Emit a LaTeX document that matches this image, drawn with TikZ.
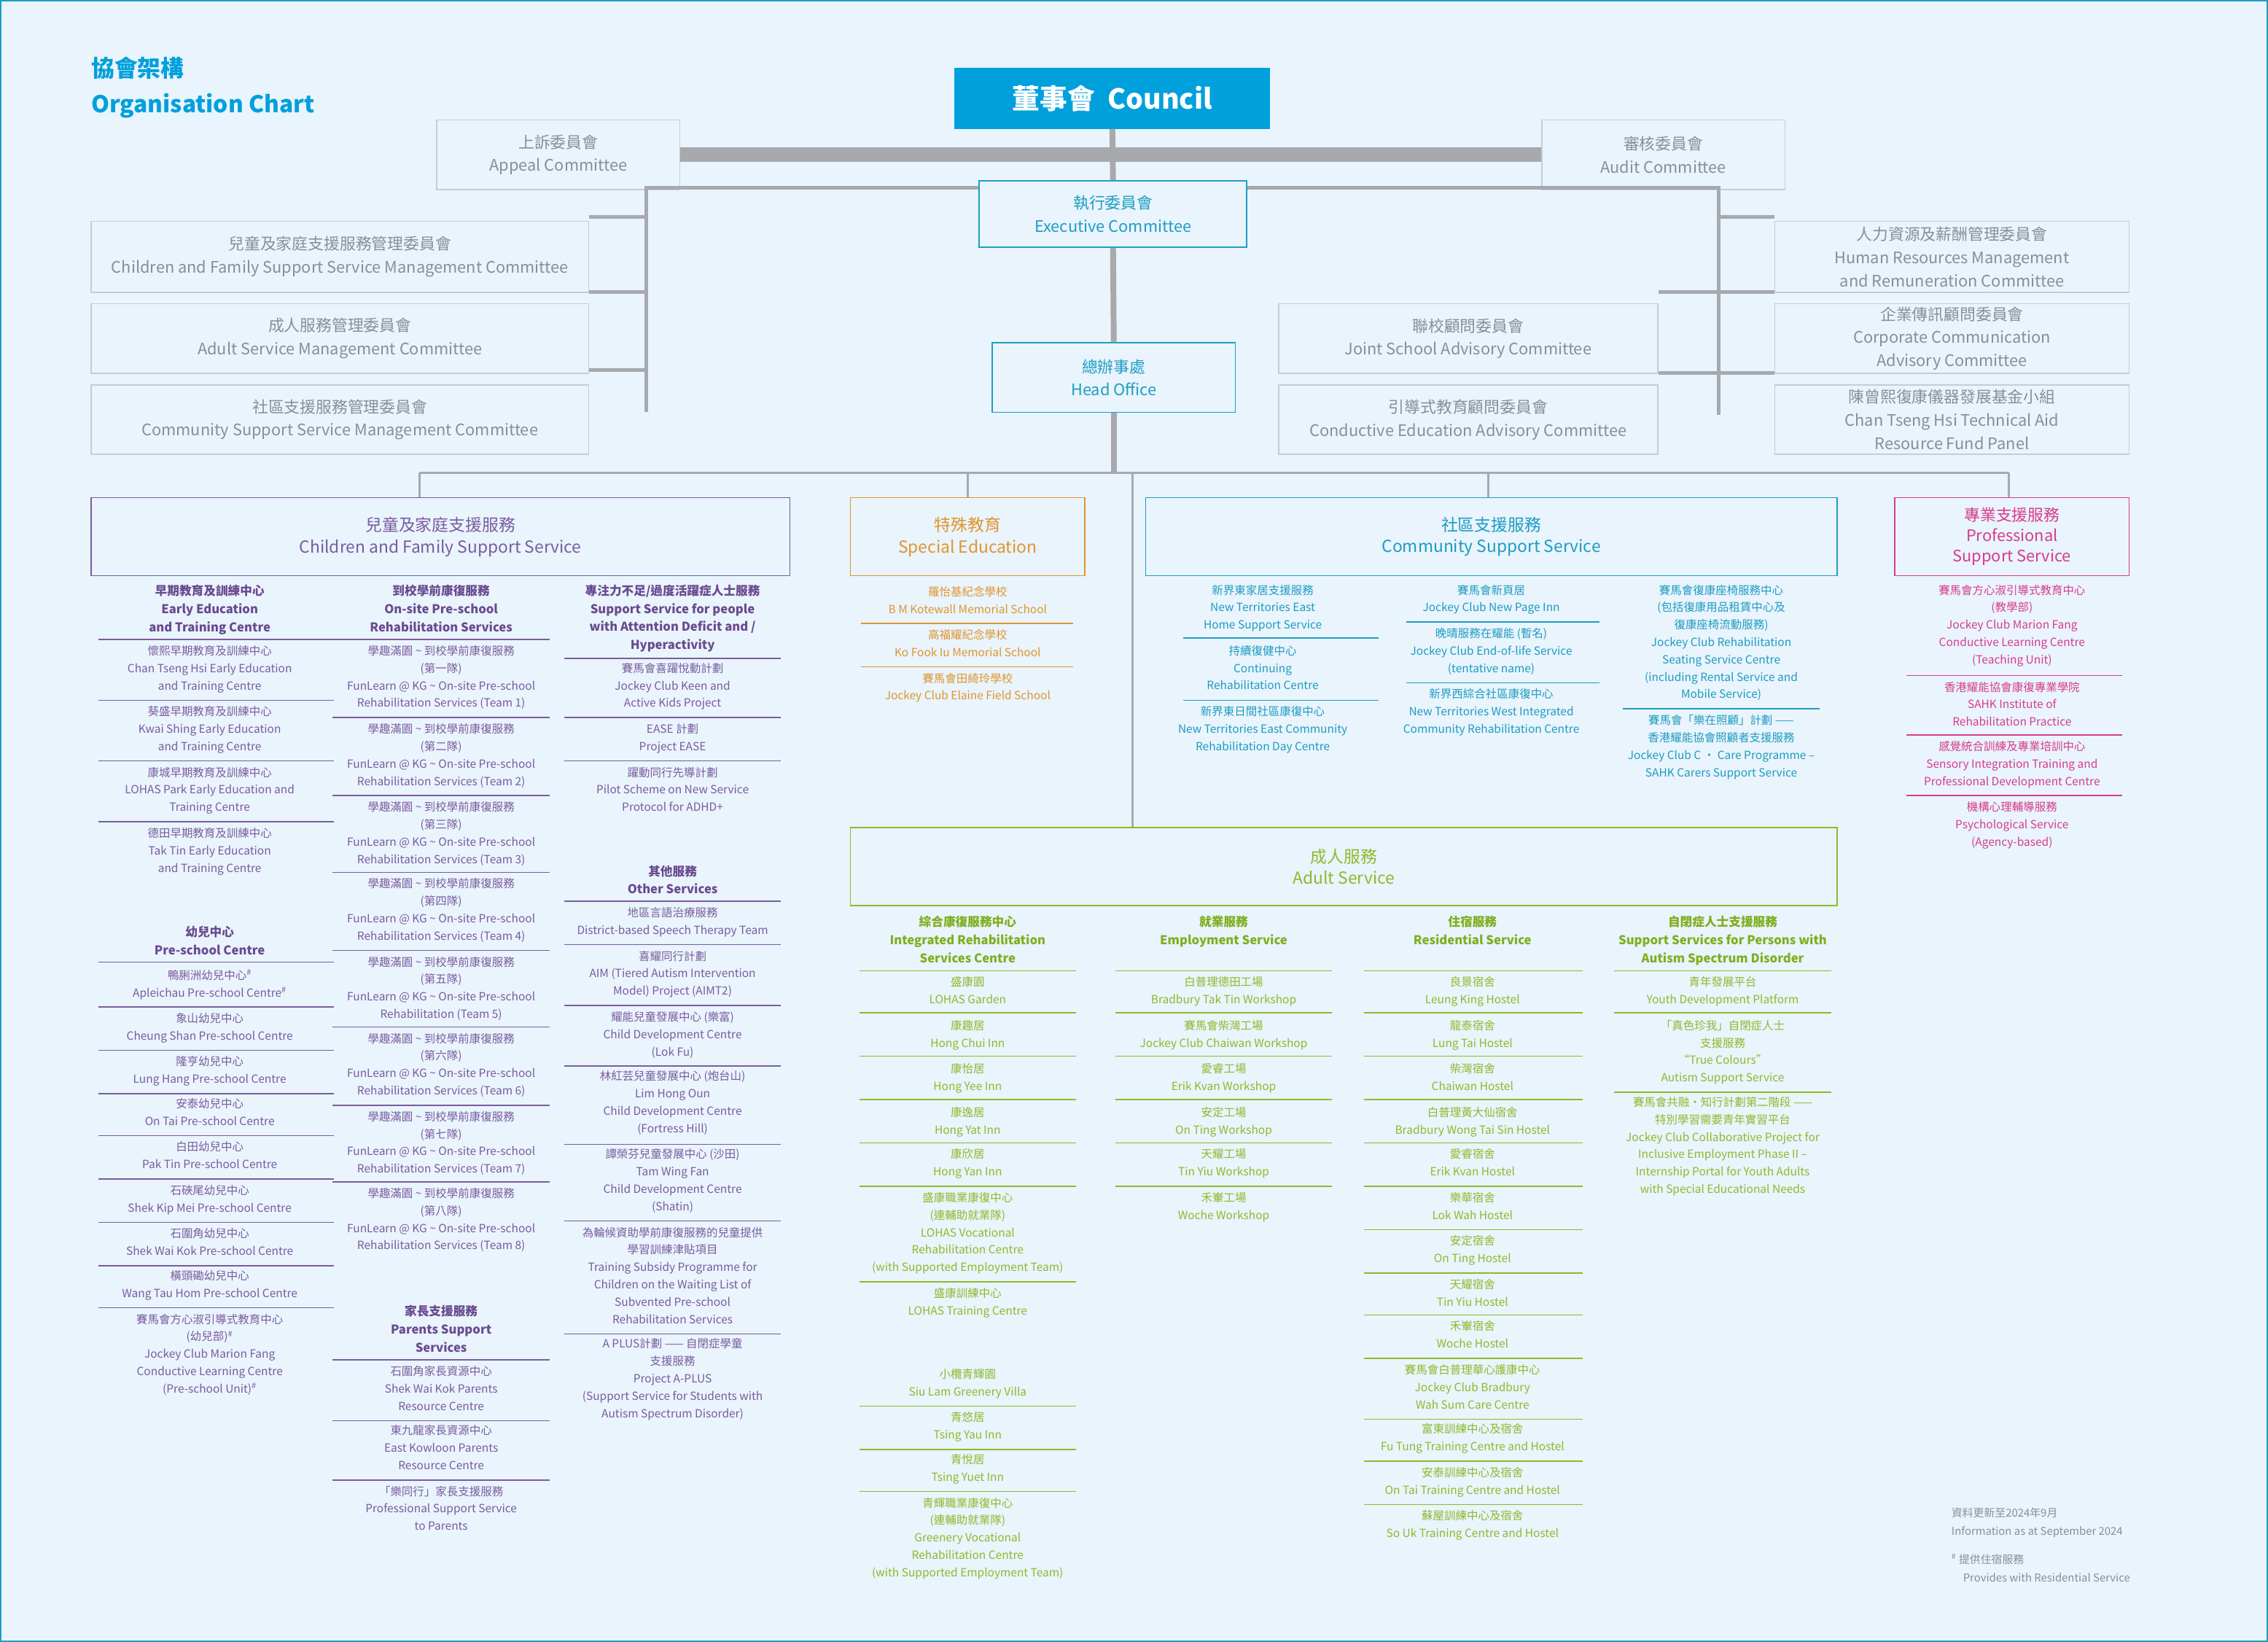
\documentclass[tikz,border=0pt]{standalone}
\usepackage{fontspec}
\setmainfont{Noto Sans CJK TC}
\definecolor{bg}{HTML}{E9F4FC}
\definecolor{cblue}{HTML}{00A0DC}
\definecolor{lgrey}{HTML}{A7A9AC}
\definecolor{tgrey}{HTML}{8A8F94}
\definecolor{bgrey}{HTML}{C3CDD5}
\definecolor{teal}{HTML}{1E9EC4}
\definecolor{pu}{HTML}{7A5C9E}
\definecolor{pud}{HTML}{6A4A8F}
\definecolor{orr}{HTML}{E0952E}
\definecolor{cs}{HTML}{1D9CC2}
\definecolor{gr}{HTML}{8DBA2C}
\definecolor{grd}{HTML}{7FAE1E}
\definecolor{pk}{HTML}{D83C8C}
\tikzset{
 it/.style={anchor=north,align=center,inner sep=0pt,font=\fontsize{7.8}{12}\selectfont},
 hd/.style={it,font=\fontsize{8.4}{12.5}\selectfont\bfseries},
 cbox/.style={draw=bgrey,line width=0.8pt,fill=bg,align=center,text=tgrey,font=\fontsize{11}{16}\selectfont,inner sep=0pt},
 sbox/.style={draw,line width=0.8pt,align=center,font=\fontsize{11.5}{15}\selectfont,inner sep=0pt},
 trunk/.style={lgrey,line width=4pt},
 br/.style={lgrey,line width=2.5pt},
 thin/.style={lgrey,line width=1.5pt},
}
\newcommand\It[5][]{\node[it,#1] (#2) at (#3,{#4-6}) {#5};}
\newcommand\Hd[5][]{\node[hd,#1] (#2) at (#3,{#4-6}) {#5};}
\newcommand\Rl[4]{\draw[#1,line width=0.8pt] (#2,#4) -- (#3,#4);}
\newcommand\Bx[7][]{\node[cbox,#1,minimum width={#4-#3},minimum height={#6-#5}] (#2) at ({(#3+#4)/2},{(#5+#6)/2}) {#7};}
\begin{document}
\begin{tikzpicture}[x=1pt,y=-1pt]
\fill[bg] (0,0) rectangle (1568,1135);
\draw[cs,line width=1pt] (0.5,0.5) rectangle (1567.5,1134.5);
\useasboundingbox (0,0) rectangle (1568,1135);
% title
\node[anchor=west,text=cblue,font=\fontsize{16}{18}\selectfont\bfseries,inner sep=0pt] (t1) at (63,47) {協會架構};
\node[anchor=west,text=cblue,font=\fontsize{16}{18}\selectfont\bfseries,inner sep=0pt] (t2) at (63,73) {Organisation Chart};
% council
\node[fill=cblue,text=white,minimum width=218,minimum height=42,inner sep=0pt,font=\fontsize{19}{22}\selectfont\bfseries] (council) at (769,68) {董事會\ \ Council};
% upper committees
\Bx{appeal}{302}{470}{83}{131}{上訴委員會\\Appeal Committee}
\Bx{audit}{1066}{1234}{83}{131}{審核委員會\\Audit Committee}
\draw[lgrey,line width=10pt] (appeal.east) -- (audit.west);
\Bx[draw=teal,text=teal]{exec}{677}{862}{125}{171}{執行委員會\\Executive Committee}
\Bx[draw=teal,text=teal]{head}{686}{854}{237}{285}{總辦事處\\Head Office}
\draw[trunk] (council.south) -- (exec.north);
\draw[trunk] (exec.south) -- (head.north);
\coordinate (hb) at (770,327);
\draw[trunk] (head.south) -- (hb);
% left committees
\Bx{lc1}{63}{407}{153}{202}{兒童及家庭支援服務管理委員會\\Children and Family Support Service Management Committee}
\Bx{lc2}{63}{407}{210}{258}{成人服務管理委員會\\Adult Service Management Committee}
\Bx{lc3}{63}{407}{266}{314}{社區支援服務管理委員會\\Community Support Service Management Committee}
\coordinate (lt) at (447,130); \coordinate (lb) at (447,285);
\draw[br] (exec.west |- 0,130) -- (lt) -- (lb);
\draw[br] (lc1.east |- 0,150) -- (447,150);
\draw[br] (lc2.east |- 0,202) -- (447,202);
\draw[br] (lc3.east |- 0,256) -- (447,256);
% right committees
\Bx{rc1}{1227}{1472}{153}{202}{人力資源及薪酬管理委員會\\Human Resources Management\\and Remuneration Committee}
\Bx{rc2}{1227}{1472}{210}{258}{企業傳訊顧問委員會\\Corporate Communication\\Advisory Committee}
\Bx{rc3}{1227}{1472}{266}{314}{陳曾熙復康儀器發展基金小組\\Chan Tseng Hsi Technical Aid\\Resource Fund Panel}
\Bx{mc1}{884}{1146}{210}{258}{聯校顧問委員會\\Joint School Advisory Committee}
\Bx{mc2}{884}{1146}{266}{314}{引導式教育顧問委員會\\Conductive Education Advisory Committee}
\draw[br] (exec.east |- 0,130) -- (1188,130) -- (1188,287);
\draw[br] (1188,150) -- (rc1.west |- 0,150);
\draw[br] (mc1.east |- 0,202) -- (rc2.west |- 0,202);
\draw[br] (mc2.east |- 0,258) -- (rc3.west |- 0,258);
% section boxes
\node[sbox,draw=pu,text=pu,minimum width=483,minimum height=54] (cf) at (304.5,371) {兒童及家庭支援服務\\Children and Family Support Service};
\node[sbox,draw=orr,text=orr,minimum width=162,minimum height=54] (se) at (669,371) {特殊教育\\Special Education};
\node[sbox,draw=cs,text=cs,minimum width=478,minimum height=54] (cm) at (1031,371) {社區支援服務\\Community Support Service};
\node[sbox,draw=pk,text=pk,minimum width=162,minimum height=54,font=\fontsize{11}{14}\selectfont] (ps) at (1391,371) {專業支援服務\\Professional\\Support Service};
\node[sbox,draw=gr,text=gr,minimum width=682,minimum height=54] (ad) at (929,599) {成人服務\\Adult Service};
\draw[thin] (290,327) -- (1389,327);
\draw[thin] (290,327) -- (cf.north -| 290,0);
\draw[thin] (669,327) -- (se.north);
\draw[thin] (1029,327) -- (cm.north -| 1029,0);
\draw[thin] (1389,327) -- (ps.north -| 1389,0);
\draw[thin] (783,327) -- (ad.north -| 783,0);
% ===== Children col1
\begin{scope}[every node/.append style={text=pu}]
\Hd[text=pud]{a0}{145}{410}{早期教育及訓練中心\\Early Education\\and Training Centre}
\Rl{pu}{68}{231}{442}
\It{a1}{145}{452}{懷熙早期教育及訓練中心\\Chan Tseng Hsi Early Education\\and Training Centre}
\Rl{pu}{68}{231}{484}
\It{a2}{145}{494}{葵盛早期教育及訓練中心\\Kwai Shing Early Education\\and Training Centre}
\Rl{pu}{68}{231}{526}
\It{a3}{145}{536}{康城早期教育及訓練中心\\LOHAS Park Early Education and\\Training Centre}
\Rl{pu}{68}{231}{568}
\It{a4}{145}{578}{德田早期教育及訓練中心\\Tak Tin Early Education\\and Training Centre}
\Hd[text=pud]{p0}{145}{646}{幼兒中心\\Pre-school Centre}
\Rl{pu}{68}{231}{665}
\It{p1}{145}{676}{鴨脷洲幼兒中心$^{\#}$\\Apleichau Pre-school Centre$^{\#}$}
\Rl{pu}{68}{231}{696}
\It{p2}{145}{706}{象山幼兒中心\\Cheung Shan Pre-school Centre}
\Rl{pu}{68}{231}{726}
\It{p3}{145}{736}{隆亨幼兒中心\\Lung Hang Pre-school Centre}
\Rl{pu}{68}{231}{756}
\It{p4}{145}{765}{安泰幼兒中心\\On Tai Pre-school Centre}
\Rl{pu}{68}{231}{785}
\It{p5}{145}{795}{白田幼兒中心\\Pak Tin Pre-school Centre}
\Rl{pu}{68}{231}{815}
\It{p6}{145}{825}{石硤尾幼兒中心\\Shek Kip Mei Pre-school Centre}
\Rl{pu}{68}{231}{845}
\It{p7}{145}{855}{石圍角幼兒中心\\Shek Wai Kok Pre-school Centre}
\Rl{pu}{68}{231}{875}
\It{p8}{145}{884}{橫頭磡幼兒中心\\Wang Tau Hom Pre-school Centre}
\Rl{pu}{68}{231}{904}
\It{p9}{145}{914}{賽馬會方心淑引導式教育中心\\(幼兒部)$^{\#}$\\Jockey Club Marion Fang\\Conductive Learning Centre\\(Pre-school Unit)$^{\#}$}
% col2
\Hd[text=pud]{b0}{305}{410}{到校學前康復服務\\On-site Pre-school\\Rehabilitation Services}
\Rl{pu}{230}{380}{442}
\It{b1}{305}{452}{學趣滿園 \textasciitilde\ 到校學前康復服務\\(第一隊)\\FunLearn @ KG \textasciitilde\ On-site Pre-school\\Rehabilitation Services (Team 1)}
\Rl{pu}{230}{380}{496}
\It{b2}{305}{506}{學趣滿園 \textasciitilde\ 到校學前康復服務\\(第二隊)\\FunLearn @ KG \textasciitilde\ On-site Pre-school\\Rehabilitation Services (Team 2)}
\Rl{pu}{230}{380}{550}
\It{b3}{305}{560}{學趣滿園 \textasciitilde\ 到校學前康復服務\\(第三隊)\\FunLearn @ KG \textasciitilde\ On-site Pre-school\\Rehabilitation Services (Team 3)}
\Rl{pu}{230}{380}{603}
\It{b4}{305}{613}{學趣滿園 \textasciitilde\ 到校學前康復服務\\(第四隊)\\FunLearn @ KG \textasciitilde\ On-site Pre-school\\Rehabilitation Services (Team 4)}
\Rl{pu}{230}{380}{657}
\It{b5}{305}{667}{學趣滿園 \textasciitilde\ 到校學前康復服務\\(第五隊)\\FunLearn @ KG \textasciitilde\ On-site Pre-school\\Rehabilitation (Team 5)}
\Rl{pu}{230}{380}{710}
\It{b6}{305}{720}{學趣滿園 \textasciitilde\ 到校學前康復服務\\(第六隊)\\FunLearn @ KG \textasciitilde\ On-site Pre-school\\Rehabilitation Services (Team 6)}
\Rl{pu}{230}{380}{764}
\It{b7}{305}{774}{學趣滿園 \textasciitilde\ 到校學前康復服務\\(第七隊)\\FunLearn @ KG \textasciitilde\ On-site Pre-school\\Rehabilitation Services (Team 7)}
\Rl{pu}{230}{380}{817}
\It{b8}{305}{827}{學趣滿園 \textasciitilde\ 到校學前康復服務\\(第八隊)\\FunLearn @ KG \textasciitilde\ On-site Pre-school\\Rehabilitation Services (Team 8)}
\Hd[text=pud]{q0}{305}{908}{家長支援服務\\Parents Support\\Services}
\Rl{pu}{230}{380}{940}
\It{q1}{305}{950}{石圍角家長資源中心\\Shek Wai Kok Parents\\Resource Centre}
\Rl{pu}{230}{380}{982}
\It{q2}{305}{991}{東九龍家長資源中心\\East Kowloon Parents\\Resource Centre}
\Rl{pu}{230}{380}{1023}
\It{q3}{305}{1033}{「樂同行」家長支援服務\\Professional Support Service\\to Parents}
% col3
\Hd[text=pud]{c0}{465}{410}{專注力不足/過度活躍症人士服務\\Support Service for people\\with Attention Deficit and /\\Hyperactivity}
\Rl{pu}{390}{540}{455}
\It{c1}{465}{464}{賽馬會喜躍悅動計劃\\Jockey Club Keen and\\Active Kids Project}
\Rl{pu}{390}{540}{496}
\It{c2}{465}{506}{EASE 計劃\\Project EASE}
\Rl{pu}{390}{540}{526}
\It{c3}{465}{536}{躍動同行先導計劃\\Pilot Scheme on New Service\\Protocol for ADHD+}
\Hd[text=pud]{o0}{465}{604}{其他服務\\Other Services}
\Rl{pu}{390}{540}{623}
\It{o1}{465}{633}{地區言語治療服務\\District-based Speech Therapy Team}
\Rl{pu}{390}{540}{653}
\It{o2}{465}{663}{喜耀同行計劃\\AIM (Tiered Autism Intervention\\Model) Project (AIMT2)}
\Rl{pu}{390}{540}{695}
\It{o3}{465}{705}{耀能兒童發展中心 (樂富)\\Child Development Centre\\(Lok Fu)}
\Rl{pu}{390}{540}{737}
\It{o4}{465}{746}{林紅芸兒童發展中心 (炮台山)\\Lim Hong Oun\\Child Development Centre\\(Fortress Hill)}
\Rl{pu}{390}{540}{791}
\It{o5}{465}{800}{譚榮芬兒童發展中心 (沙田)\\Tam Wing Fan\\Child Development Centre\\(Shatin)}
\Rl{pu}{390}{540}{844}
\It{o6}{465}{854}{為輪候資助學前康復服務的兒童提供\\學習訓練津貼項目\\Training Subsidy Programme for\\Children on the Waiting List of\\Subvented Pre-school\\Rehabilitation Services}
\Rl{pu}{390}{540}{922}
\It{o7}{465}{931}{A PLUS計劃 —— 自閉症學童\\支援服務\\Project A-PLUS\\(Support Service for Students with\\Autism Spectrum Disorder)}
\end{scope}
% ===== Special education
\begin{scope}[every node/.append style={text=orr}]
\It{s1}{669}{411}{羅怡基紀念學校\\B M Kotewall Memorial School}
\Rl{orr}{595}{742}{431}
\It{s2}{669}{441}{高福耀紀念學校\\Ko Fook Iu Memorial School}
\Rl{orr}{595}{742}{461}
\It{s3}{669}{471}{賽馬會田綺玲學校\\Jockey Club Elaine Field School}
\end{scope}
% ===== Community
\begin{scope}[every node/.append style={text=cs}]
\It{m1}{873}{410}{新界東家居支援服務\\New Territories East\\Home Support Service}
\Rl{cs}{818}{953}{441}
\It{m2}{873}{452}{持續復健中心\\Continuing\\Rehabilitation Centre}
\Rl{cs}{818}{953}{484}
\It{m3}{873}{494}{新界東日間社區康復中心\\New Territories East Community\\Rehabilitation Day Centre}
\It{n1}{1031}{410}{賽馬會新頁居\\Jockey Club New Page Inn}
\Rl{cs}{972}{1106}{430}
\It{n2}{1031}{440}{晚晴服務在耀能 (暫名)\\Jockey Club End-of-life Service\\(tentative name)}
\Rl{cs}{972}{1106}{472}
\It{n3}{1031}{482}{新界西綜合社區康復中心\\New Territories West Integrated\\Community Rehabilitation Centre}
\It{k1}{1190}{410}{賽馬會復康座椅服務中心\\(包括復康用品租賃中心及\\復康座椅流動服務)\\Jockey Club Rehabilitation\\Seating Service Centre\\(including Rental Service and\\Mobile Service)}
\Rl{cs}{1122}{1258}{490}
\It{k2}{1190}{500}{賽馬會「樂在照顧」計劃 ——\\香港耀能協會照顧者支援服務\\Jockey Club C • Care Programme –\\SAHK Carers Support Service}
\end{scope}
% ===== Professional
\begin{scope}[every node/.append style={text=pk}]
\It{z1}{1391}{410}{賽馬會方心淑引導式教育中心\\(教學部)\\Jockey Club Marion Fang\\Conductive Learning Centre\\(Teaching Unit)}
\Rl{pk}{1318}{1467}{467}
\It{z2}{1391}{477}{香港耀能協會康復專業學院\\SAHK Institute of\\Rehabilitation Practice}
\Rl{pk}{1318}{1467}{508}
\It{z3}{1391}{518}{感覺統合訓練及專業培訓中心\\Sensory Integration Training and\\Professional Development Centre}
\Rl{pk}{1318}{1467}{550}
\It{z4}{1391}{560}{機構心理輔導服務\\Psychological Service\\(Agency-based)}
\end{scope}
% ===== Adult
\begin{scope}[every node/.append style={text=gr}]
\Hd[text=grd]{d0}{669}{639}{綜合康復服務中心\\Integrated Rehabilitation\\Services Centre}
\Rl{gr}{594}{744}{671}
\It{d1}{669}{681}{盛康園\\LOHAS Garden}
\Rl{gr}{594}{744}{700}
\It{d2}{669}{711}{康趣居\\Hong Chui Inn}
\Rl{gr}{594}{744}{730}
\It{d3}{669}{741}{康怡居\\Hong Yee Inn}
\Rl{gr}{594}{744}{760}
\It{d4}{669}{771}{康逸居\\Hong Yat Inn}
\Rl{gr}{594}{744}{790}
\It{d5}{669}{800}{康欣居\\Hong Yan Inn}
\Rl{gr}{594}{744}{820}
\It{d6}{669}{830}{盛康職業康復中心\\(連輔助就業隊)\\LOHAS Vocational\\Rehabilitation Centre\\(with Supported Employment Team)}
\Rl{gr}{594}{744}{886}
\It{d7}{669}{896}{盛康訓練中心\\LOHAS Training Centre}
\It{d8}{669}{952}{小欖青輝園\\Siu Lam Greenery Villa}
\Rl{gr}{594}{744}{972}
\It{d9}{669}{982}{青悠居\\Tsing Yau Inn}
\Rl{gr}{594}{744}{1002}
\It{d10}{669}{1011}{青悅居\\Tsing Yuet Inn}
\Rl{gr}{594}{744}{1031}
\It{d11}{669}{1041}{青輝職業康復中心\\(連輔助就業隊)\\Greenery Vocational\\Rehabilitation Centre\\(with Supported Employment Team)}
% employment
\Hd[text=grd]{e0}{846}{639}{就業服務\\Employment Service}
\Rl{gr}{771}{921}{671}
\It{e1}{846}{681}{白普理德田工場\\Bradbury Tak Tin Workshop}
\Rl{gr}{771}{921}{700}
\It{e2}{846}{711}{賽馬會柴灣工場\\Jockey Club Chaiwan Workshop}
\Rl{gr}{771}{921}{730}
\It{e3}{846}{741}{愛睿工場\\Erik Kvan Workshop}
\Rl{gr}{771}{921}{760}
\It{e4}{846}{771}{安定工場\\On Ting Workshop}
\Rl{gr}{771}{921}{790}
\It{e5}{846}{800}{天耀工場\\Tin Yiu Workshop}
\Rl{gr}{771}{921}{820}
\It{e6}{846}{830}{禾輋工場\\Woche Workshop}
% residential
\Hd[text=grd]{r0}{1018}{639}{住宿服務\\Residential Service}
\Rl{gr}{943}{1094}{671}
\It{r1}{1018}{681}{良景宿舍\\Leung King Hostel}
\Rl{gr}{943}{1094}{700}
\It{r2}{1018}{711}{龍泰宿舍\\Lung Tai Hostel}
\Rl{gr}{943}{1094}{730}
\It{r3}{1018}{741}{柴灣宿舍\\Chaiwan Hostel}
\Rl{gr}{943}{1094}{760}
\It{r4}{1018}{771}{白普理黃大仙宿舍\\Bradbury Wong Tai Sin Hostel}
\Rl{gr}{943}{1094}{790}
\It{r5}{1018}{800}{愛睿宿舍\\Erik Kvan Hostel}
\Rl{gr}{943}{1094}{820}
\It{r6}{1018}{830}{樂華宿舍\\Lok Wah Hostel}
\Rl{gr}{943}{1094}{850}
\It{r7}{1018}{860}{安定宿舍\\On Ting Hostel}
\Rl{gr}{943}{1094}{880}
\It{r8}{1018}{890}{天耀宿舍\\Tin Yiu Hostel}
\Rl{gr}{943}{1094}{909}
\It{r9}{1018}{919}{禾輋宿舍\\Woche Hostel}
\Rl{gr}{943}{1094}{939}
\It{r10}{1018}{949}{賽馬會白普理華心護康中心\\Jockey Club Bradbury\\Wah Sum Care Centre}
\Rl{gr}{943}{1094}{981}
\It{r11}{1018}{990}{富東訓練中心及宿舍\\Fu Tung Training Centre and Hostel}
\Rl{gr}{943}{1094}{1010}
\It{r12}{1018}{1020}{安泰訓練中心及宿舍\\On Tai Training Centre and Hostel}
\Rl{gr}{943}{1094}{1040}
\It{r13}{1018}{1050}{蘇屋訓練中心及宿舍\\So Uk Training Centre and Hostel}
% autism
\Hd[text=grd]{u0}{1191}{639}{自閉症人士支援服務\\Support Services for Persons with\\Autism Spectrum Disorder}
\Rl{gr}{1116}{1266}{671}
\It{u1}{1191}{681}{青年發展平台\\Youth Development Platform}
\Rl{gr}{1116}{1266}{700}
\It{u2}{1191}{711}{「真色珍我」自閉症人士\\支援服務\\“True Colours”\\Autism Support Service}
\Rl{gr}{1116}{1266}{755}
\It{u3}{1191}{764}{賽馬會共融・知行計劃第二階段 ——\\特別學習需要青年實習平台\\Jockey Club Collaborative Project for\\Inclusive Employment Phase II –\\Internship Portal for Youth Adults\\with Special Educational Needs}
\end{scope}
% footnotes
\node[anchor=north west,align=left,inner sep=0pt,text=tgrey,font=\fontsize{7.5}{12.5}\selectfont] (f1) at (1349,1042) {資料更新至2024年9月\\Information as at September 2024};
\node[anchor=north west,align=left,inner sep=0pt,text=tgrey,font=\fontsize{7.5}{12.5}\selectfont] (f2) at (1349,1074) {$^{\#}$ 提供住宿服務\\\hspace*{8pt}Provides with Residential Service};
\end{tikzpicture}
\end{document}
